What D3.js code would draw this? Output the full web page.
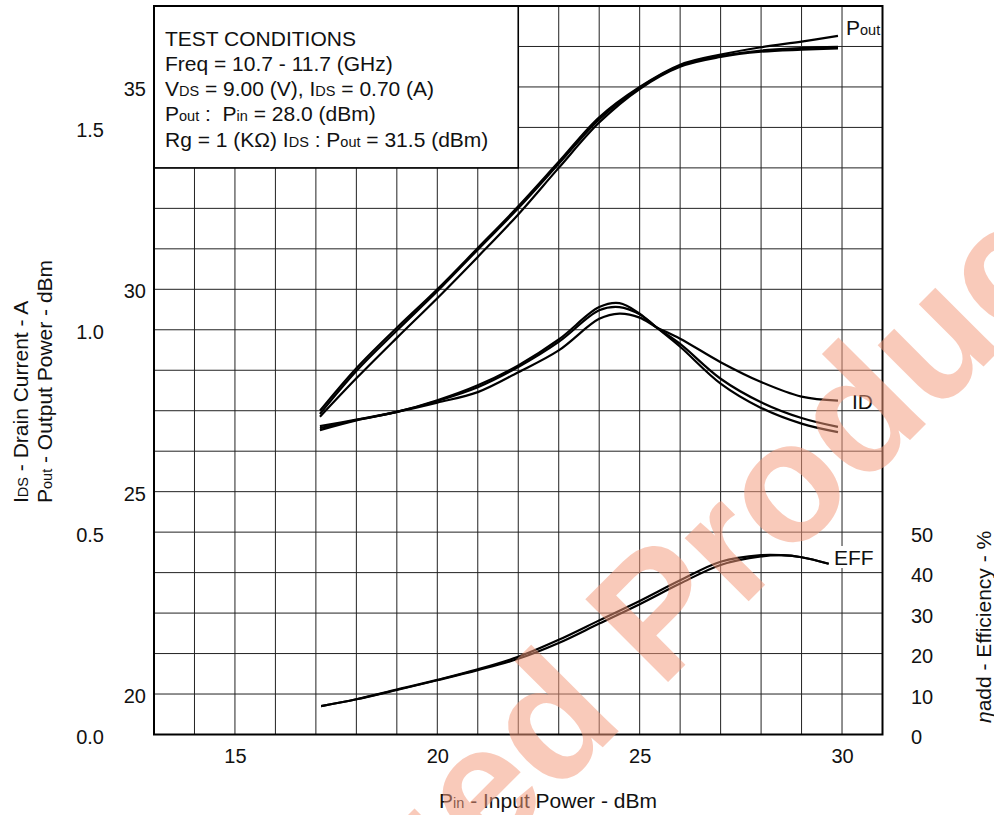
<!DOCTYPE html>
<html>
<head>
<meta charset="utf-8">
<script src="https://cdn.jsdelivr.net/npm/d3@7"></script>
<style>
body { margin: 0; background: #fff; }
svg { display: block; font-family: "Liberation Sans", Arial, sans-serif; }
</style>
</head>
<body>
<svg id="chart"></svg>
<script>
const width = 994;
const height = 815;

// tick labels
const pinTicks = [15, 20, 25, 30];
const poutTicks = [20, 25, 30, 35];
const idsTicks = [0.0, 0.5, 1.0, 1.5];
const effTicks = [0, 10, 20, 30, 40, 50];

// Pout curves (dBm) vs Pin (dBm)
const pinPout = [17.1, 18, 19, 20, 21, 22, 23, 24, 25, 26, 27, 28, 29, 29.9];
const poutA = [27.0, 28.05, 29.05, 30.0, 31.02, 32.05, 33.15, 34.25, 35.0, 35.55, 35.8, 35.98, 36.12, 36.26];
const poutB = [26.92, 27.98, 28.98, 29.95, 30.98, 32.0, 33.1, 34.2, 34.98, 35.52, 35.76, 35.9, 35.96, 35.99];
const poutC = [26.85, 27.8, 28.8, 29.78, 30.8, 31.85, 33.0, 34.12, 34.95, 35.5, 35.74, 35.87, 35.92, 35.95];

// Drain current curves (A)
const pinIds = [17.1, 18, 19, 20, 21, 22, 23, 24, 24.5, 25, 25.4, 26, 27, 28, 29, 29.9];
const idsA = [0.752, 0.776, 0.797, 0.826, 0.863, 0.912, 0.976, 1.056, 1.066, 1.040, 1.007, 0.958, 0.867, 0.807, 0.768, 0.747];
const idsB = [0.757, 0.777, 0.797, 0.824, 0.858, 0.908, 0.970, 1.048, 1.056, 1.038, 1.007, 0.965, 0.879, 0.821, 0.782, 0.760];
const idsC = [0.762, 0.778, 0.797, 0.820, 0.846, 0.895, 0.949, 1.027, 1.040, 1.030, 1.007, 0.978, 0.920, 0.871, 0.835, 0.825];

// Power added efficiency curves (%)
const pinEff = [17.13, 18, 19, 20, 21, 22, 23, 24, 25, 26, 27, 28, 28.5, 29, 29.67];
const effA = [7.0, 8.7, 11.1, 13.5, 16.1, 19.2, 23.4, 28.2, 33.0, 38.1, 42.7, 44.3, 44.3, 43.8, 42.2];
const effB = [7.0, 8.7, 11.0, 13.4, 15.9, 18.7, 22.6, 27.4, 32.2, 37.3, 41.9, 44.0, 44.3, 43.8, 42.2];

const conditions = [
  [["TEST CONDITIONS", 0]],
  [["Freq = 10.7 - 11.7 (GHz)", 0]],
  [["V", 0], ["DS", 1], [" = 9.00 (V), I", 0], ["DS", 1], [" = 0.70 (A)", 0]],
  [["P", 0], ["out", 1], [" :  P", 0], ["in", 1], [" = 28.0 (dBm)", 0]],
  [["Rg = 1 (K\u03A9) I", 0], ["DS", 1], [" : P", 0], ["out", 1], [" = 31.5 (dBm)", 0]]
];

const svg = d3.select("#chart")
  .attr("width", width)
  .attr("height", height);

const x = d3.scaleLinear().domain([13, 31]).range([154, 882.5]);
const yPout = d3.scaleLinear().domain([19, 37]).range([734.5, 6]);
const yIds = d3.scaleLinear().domain([0, 1.8]).range([734.5, 6]);
const yEff = d3.scaleLinear().domain([0, 180]).range([734.5, 6]);

// grid
const grid = svg.append("g").attr("stroke", "#222").attr("stroke-width", 1);
grid.selectAll(".vx")
  .data(d3.range(14, 31))
  .enter()
  .append("line")
  .attr("x1", d => x(d)).attr("x2", d => x(d))
  .attr("y1", yPout(37)).attr("y2", yPout(19));
grid.selectAll(".hy")
  .data(d3.range(20, 37))
  .enter()
  .append("line")
  .attr("y1", d => yPout(d)).attr("y2", d => yPout(d))
  .attr("x1", x(13)).attr("x2", x(31));

// test conditions box
svg.append("rect")
  .attr("x", x(13)).attr("y", yPout(37))
  .attr("width", x(22) - x(13)).attr("height", yPout(33) - yPout(37))
  .attr("fill", "#fff").attr("stroke", "#000").attr("stroke-width", 1.6);

const condText = svg.append("text")
  .attr("font-size", 21)
  .attr("fill", "#111")
  .style("white-space", "pre");
conditions.forEach((line, i) => {
  line.forEach((part, j) => {
    const t = condText.append("tspan").text(part[0]);
    if (j === 0) t.attr("x", 165).attr("y", 45.5 + i * 25.3);
    if (part[1]) t.attr("font-size", 14.5);
  });
});

// frame
svg.append("rect")
  .attr("x", x(13)).attr("y", yPout(37))
  .attr("width", x(31) - x(13)).attr("height", yPout(19) - yPout(37))
  .attr("fill", "none").attr("stroke", "#000").attr("stroke-width", 2);

// curves
function drawCurve(xs, ys, yScale) {
  const pts = xs.map((d, i) => [d, ys[i]]);
  svg.append("path")
    .datum(pts)
    .attr("fill", "none")
    .attr("stroke", "#000")
    .attr("stroke-width", 2.2)
    .attr("d", d3.line()
      .x(d => x(d[0]))
      .y(d => yScale(d[1]))
      .curve(d3.curveCatmullRom.alpha(0.5)));
}
[poutA, poutB, poutC].forEach(s => drawCurve(pinPout, s, yPout));
[idsA, idsB, idsC].forEach(s => drawCurve(pinIds, s, yIds));
[effA, effB].forEach(s => drawCurve(pinEff, s, yEff));

// curve labels
const pl = svg.append("text").attr("x", 846).attr("y", 35).attr("font-size", 21).attr("fill", "#111");
pl.append("tspan").text("P");
pl.append("tspan").attr("font-size", 14.5).text("out");
svg.append("text").attr("x", 852).attr("y", 409).attr("font-size", 21).attr("fill", "#111").text("ID");
svg.append("rect").attr("x", 833).attr("y", 546).attr("width", 42).attr("height", 22).attr("fill", "#fff");
svg.append("text").attr("x", 834).attr("y", 565).attr("font-size", 21).attr("fill", "#111").text("EFF");

// axes (labels only)
function styleAxis(g) {
  g.select(".domain").remove();
  g.selectAll("text").attr("font-size", 20).attr("fill", "#111")
    .attr("font-family", "Liberation Sans, Arial, sans-serif");
}
svg.append("g")
  .attr("transform", `translate(0, ${yPout(19)})`)
  .call(d3.axisBottom(x).tickValues(pinTicks).tickSize(0).tickPadding(14))
  .call(styleAxis);
svg.append("g")
  .attr("transform", `translate(${x(13)}, 0)`)
  .call(d3.axisLeft(yPout).tickValues(poutTicks).tickSize(0).tickPadding(8))
  .call(styleAxis)
  .selectAll("text").attr("dy", "0.42em");
svg.append("g")
  .attr("transform", "translate(104, 0)")
  .call(d3.axisLeft(yIds).tickValues(idsTicks).tickFormat(d3.format(".1f")).tickSize(0).tickPadding(0))
  .call(styleAxis)
  .selectAll("text").attr("dy", "0.45em");
svg.append("g")
  .attr("transform", "translate(911, 0)")
  .call(d3.axisRight(yEff).tickValues(effTicks).tickSize(0).tickPadding(0))
  .call(styleAxis)
  .selectAll("text").attr("dy", "0.45em");

// axis titles
const xt = svg.append("text").attr("x", 548).attr("y", 808).attr("text-anchor", "middle")
  .attr("font-size", 21).attr("fill", "#111");
xt.append("tspan").text("P");
xt.append("tspan").attr("font-size", 14.5).text("in");
xt.append("tspan").text(" - Input Power - dBm");

const yt1 = svg.append("text").attr("transform", "translate(27.5, 503) rotate(-90)")
  .attr("font-size", 21).attr("fill", "#111");
yt1.append("tspan").text("I");
yt1.append("tspan").attr("font-size", 14.5).text("DS");
yt1.append("tspan").text(" - Drain Current - A");

const yt2 = svg.append("text").attr("transform", "translate(51.5, 503) rotate(-90)")
  .attr("font-size", 21).attr("fill", "#111");
yt2.append("tspan").text("P");
yt2.append("tspan").attr("font-size", 14.5).text("out");
yt2.append("tspan").text(" - Output Power - dBm");

const yt3 = svg.append("text").attr("transform", "translate(991, 723) rotate(-90)")
  .attr("font-size", 21).attr("fill", "#111");
yt3.append("tspan").attr("font-style", "italic").text("\u03B7");
yt3.append("tspan").text("add - Efficiency - %");

// watermark
const wm = svg.append("g")
  .attr("transform", "translate(660, 690) rotate(-45)")
  .attr("fill", "rgb(245,155,125)")
  .attr("opacity", 0.52)
  .attr("font-size", 170)
  .attr("font-weight", "bold");
wm.append("text").attr("x", -47).attr("text-anchor", "end").text("Discontinued");
wm.append("text").attr("x", 0).text("Product");
</script>
</body>
</html>
